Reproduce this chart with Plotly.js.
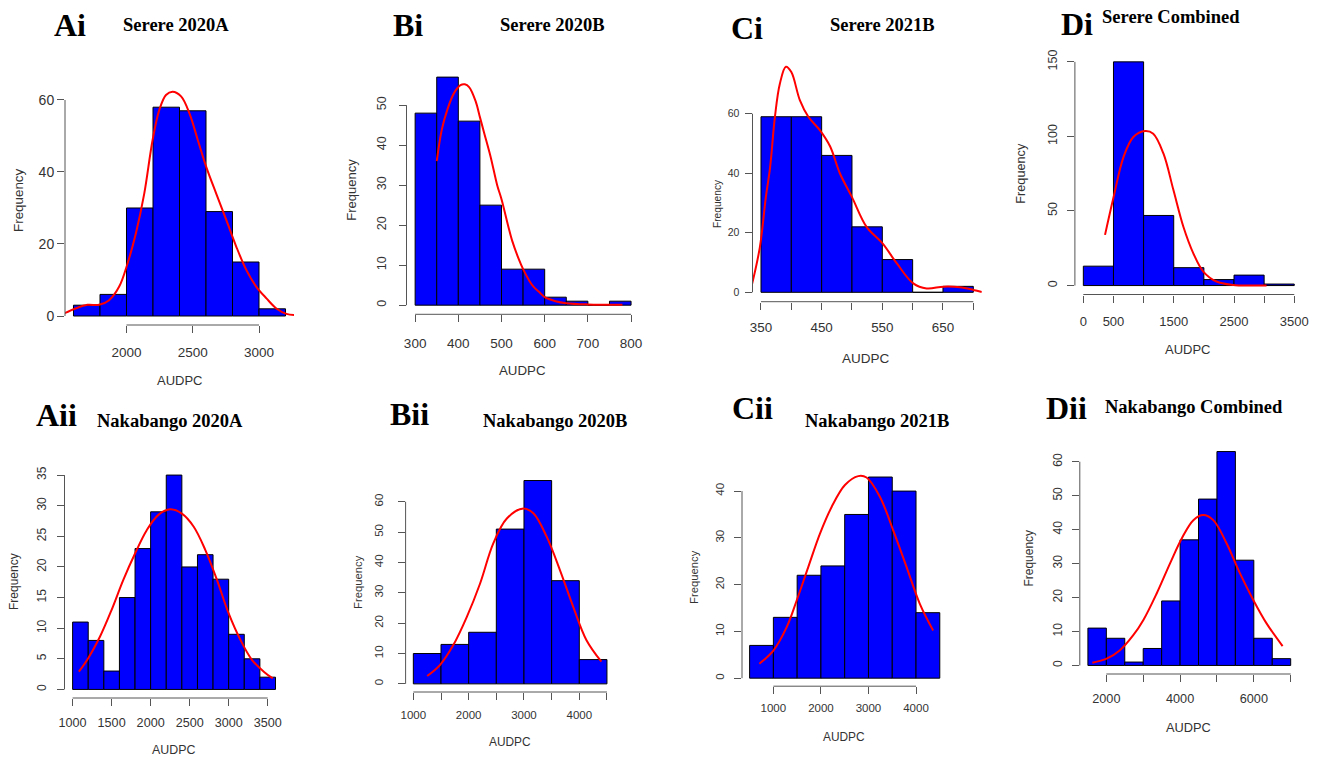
<!DOCTYPE html>
<html><head><meta charset="utf-8">
<script src="https://cdn.plot.ly/plotly-3.0.1.min.js"></script>
<style>html,body{margin:0;padding:0;background:#fff}#chart{width:1318px;height:758px}</style>
</head><body><div id="chart"></div>
<script>
// ---------------- DATA ----------------
// Ai Serere 2020A
const aiTitle = 'Serere 2020A';
const aiBinStart = 1600, aiBinWidth = 200;
const aiCounts = [3, 6, 30, 58, 57, 29, 15, 2];
const aiCurveX = [1528, 1616, 1705, 1793, 1869, 1944, 2008, 2071, 2134, 2197, 2247, 2298, 2348, 2412, 2475, 2538, 2601, 2677, 2753, 2828, 2904, 2980, 3056, 3131, 3207, 3270];
const aiCurveY = [0.7, 2.1, 3.1, 3.1, 4.4, 8.1, 14.6, 23, 34, 48.9, 57.2, 61.4, 62.3, 61, 56.3, 48.9, 41.5, 34, 26.7, 19.3, 12.8, 8.1, 4.9, 2.1, 0.6, 0.3];
const aiXTicks = [2000, 2500, 3000];
const aiXLabels = ['2000', '2500', '3000'];
const aiYTicks = [0, 20, 40, 60];

// Bi Serere 2020B
const biTitle = 'Serere 2020B';
const biBinStart = 300, biBinWidth = 50;
const biCounts = [48, 57, 46, 25, 9, 9, 2, 1, 0, 1];
const biCurveX = [350, 362, 375, 390, 405, 415, 425, 440, 450, 460, 475, 490, 500, 515, 525, 540, 550, 565, 575, 590, 600, 625, 650, 700, 780];
const biCurveY = [36, 44, 49, 53, 55, 55.2, 54.5, 51, 47, 43, 37, 30, 26.5, 20, 16, 11.5, 9, 6, 4.5, 3, 2, 1, 0.5, 0.2, 0.1];
const biXTicks = [300, 400, 500, 600, 700, 800];
const biXLabels = ['300', '400', '500', '600', '700', '800'];
const biYTicks = [0, 10, 20, 30, 40, 50];

// Ci Serere 2021B
const ciTitle = 'Serere 2021B';
const ciBinStart = 350, ciBinWidth = 50;
const ciCounts = [59, 59, 46, 22, 11, 0, 2];
const ciCurveX = [335, 348, 358, 365, 373, 381, 391, 400, 414, 428, 447, 464, 480, 500, 524, 550, 574, 601, 623, 651, 678, 700, 714];
const ciCurveY = [2.5, 15, 32, 42, 59, 70, 75.8, 74, 64.6, 59, 54.5, 49, 40, 32, 22, 16.5, 9.7, 3, 1.3, 1.9, 1.7, 0.8, 0.1];
const ciXTicks = [350, 400, 450, 500, 550, 600, 650, 700];
const ciXLabels = ['350', '', '450', '', '550', '', '650', ''];
const ciYTicks = [0, 20, 40, 60];

// Di Serere Combined
const diTitle = 'Serere Combined';
const diBinStart = 0, diBinWidth = 500;
const diCounts = [13, 150, 47, 12, 4, 7, 1];
const diCurveX = [360, 500, 665, 830, 1025, 1160, 1330, 1495, 1660, 1825, 1990, 2210, 2490, 2765, 3040];
const diCurveY = [34, 59, 86, 99.6, 103.6, 101.8, 88.4, 64, 39.4, 21.6, 9.4, 2.7, 0.4, 0, 0];
const diXTicks = [0, 500, 1000, 1500, 2000, 2500, 3000, 3500];
const diXLabels = ['0', '500', '', '1500', '', '2500', '', '3500'];
const diYTicks = [0, 50, 100, 150];

// Aii Nakabango 2020A
const aiiTitle = 'Nakabango 2020A';
const aiiBinStart = 1000, aiiBinWidth = 200;
const aiiCounts = [11, 8, 3, 15, 23, 29, 35, 20, 22, 18, 9, 5, 2];
const aiiCurveX = [1080, 1200, 1350, 1500, 1650, 1800, 1950, 2100, 2250, 2400, 2550, 2700, 2850, 3000, 3150, 3300, 3450, 3565];
const aiiCurveY = [2.9, 5.1, 8.6, 13, 17.9, 22.2, 26, 28.5, 29.4, 28.7, 26.6, 22.8, 17.9, 12.4, 8.1, 4.8, 2.9, 1.8];
const aiiXTicks = [1000, 1500, 2000, 2500, 3000, 3500];
const aiiXLabels = ['1000', '1500', '2000', '2500', '3000', '3500'];
const aiiYTicks = [0, 5, 10, 15, 20, 25, 30, 35];

// Bii Nakabango 2020B
const biiTitle = 'Nakabango 2020B';
const biiBinStart = 1000, biiBinWidth = 500;
const biiCounts = [10, 13, 17, 51, 67, 34, 8];
const biiCurveX = [1250, 1480, 1720, 1965, 2205, 2445, 2690, 2990, 3170, 3410, 3650, 3890, 4130, 4400];
const biiCurveY = [2.6, 6.2, 12.7, 22, 33, 46.3, 54.5, 57.8, 56.2, 48.5, 37.5, 25.4, 14.4, 7.3];
const biiXTicks = [1000, 1500, 2000, 2500, 3000, 3500, 4000, 4500];
const biiXLabels = ['1000', '', '2000', '', '3000', '', '4000', ''];
const biiYTicks = [0, 10, 20, 30, 40, 50, 60];

// Cii Nakabango 2021B
const ciiTitle = 'Nakabango 2021B';
const ciiBinStart = 500, ciiBinWidth = 500;
const ciiCounts = [7, 13, 22, 24, 35, 43, 40, 14];
const ciiCurveX = [705, 1000, 1280, 1490, 1735, 1980, 2225, 2505, 2785, 2960, 3240, 3520, 3800, 4080, 4360];
const ciiCurveY = [3.1, 5.9, 10.9, 16.6, 23.8, 30.9, 36.6, 41.3, 43.2, 42.9, 38.8, 31.6, 23.8, 15.9, 10.2];
const ciiXTicks = [1000, 2000, 3000, 4000];
const ciiXLabels = ['1000', '2000', '3000', '4000'];
const ciiYTicks = [0, 10, 20, 30, 40];

// Dii Nakabango Combined
const diiTitle = 'Nakabango Combined';
const diiBinStart = 1500, diiBinWidth = 500;
const diiCounts = [11, 8, 1, 5, 19, 37, 49, 63, 31, 8, 2];
const diiCurveX = [1620, 2010, 2370, 2730, 3005, 3365, 3725, 4045, 4360, 4630, 4900, 5260, 5625, 5985, 6345, 6780];
const diiCurveY = [0.8, 2, 4.5, 8.9, 13.4, 21.2, 30, 37.4, 42.8, 44.3, 42.8, 36, 27.1, 19.3, 12.4, 5.7];
const diiXTicks = [2000, 3000, 4000, 5000, 6000, 7000];
const diiXLabels = ['2000', '', '4000', '', '6000', ''];
const diiYTicks = [0, 10, 20, 30, 40, 50, 60];

// ---------------- LAYOUT CONFIG (positions in px) ----------------
const W = 1318, H = 758;
const panels = [
  {tag:'Ai',  title:aiTitle,  start:aiBinStart,  bw:aiBinWidth,  counts:aiCounts,  cx:aiCurveX,  cy:aiCurveY,  xt:aiXTicks,  xl:aiXLabels,  yt:aiYTicks,
   xd:[65,294], yd:[84,325], xr:[1536,3264], yr:[-2.5,64.44], rot:false, tf:13.5, ytf:14, xso:8, yso:0,
   tagPos:[70,25], titlePos:[175.5,25], freqPos:[19,200], freqF:13.4, audPos:[180,380], audF:13},
  {tag:'Bi',  title:biTitle,  start:biBinStart,  bw:biBinWidth,  counts:biCounts,  cx:biCurveX,  cy:biCurveY,  xt:biXTicks,  xl:biXLabels,  yt:biYTicks,
   xd:[406.5,639.7], yd:[68,314.3], xr:[280,820], yr:[-2.28,59.28], rot:true, tf:13.5, ytf:12.5, xso:9, yso:8,
   tagPos:[408,25], titlePos:[552,25], freqPos:[350.7,190], freqF:13, audPos:[522.7,370], audF:13.3},
  {tag:'Ci',  title:ciTitle,  start:ciBinStart,  bw:ciBinWidth,  counts:ciCounts,  cx:ciCurveX,  cy:ciCurveY,  xt:ciXTicks,  xl:ciXLabels,  yt:ciYTicks,
   xd:[752.5,981.8], yd:[48.3,301.7], xr:[336,714], yr:[-3.16,82], rot:false, tf:13.4, ytf:10.5, xso:6, yso:3,
   tagPos:[747,28], titlePos:[882,25], freqPos:[717,203], freqF:10.2, audPos:[866,358], audF:13.5},
  {tag:'Di',  title:diTitle,  start:diBinStart,  bw:diBinWidth,  counts:diCounts,  cx:diCurveX,  cy:diCurveY,  xt:diXTicks,  xl:diXLabels,  yt:diYTicks,
   xd:[1074.9,1302.7], yd:[52.9,294.5], xr:[-140,3640], yr:[-6,156], rot:true, tf:13, ytf:12.5, xso:8, yso:5,
   tagPos:[1077,24], titlePos:[1171,17], freqPos:[1020.7,173], freqF:12.7, audPos:[1187.7,350], audF:13},
  {tag:'Aii', title:aiiTitle, start:aiiBinStart, bw:aiiBinWidth, counts:aiiCounts, cx:aiiCurveX, cy:aiiCurveY, xt:aiiXTicks, xl:aiiXLabels, yt:aiiYTicks,
   xd:[64.5,283.6], yd:[466.5,698], xr:[896,3704], yr:[-1.4,36.4], rot:true, tf:12.6, ytf:12, xso:6, yso:6,
   tagPos:[56,415], titlePos:[170,421], freqPos:[13.3,581.7], freqF:12, audPos:[173.3,750], audF:12.4},
  {tag:'Bii', title:biiTitle, start:biiBinStart, bw:biiBinWidth, counts:biiCounts, cx:biiCurveX, cy:biiCurveY, xt:biiXTicks, xl:biiXLabels, yt:biiYTicks,
   xd:[405.6,614.7], yd:[472.4,692], xr:[860,4640], yr:[-2.68,69.68], rot:true, tf:11.5, ytf:11.5, xso:5, yso:10,
   tagPos:[409,414], titlePos:[555,421], freqPos:[357.3,581.7], freqF:11.3, audPos:[510,741.7], audF:11.9},
  {tag:'Cii', title:ciiTitle, start:ciiBinStart, bw:ciiBinWidth, counts:ciiCounts, cx:ciiCurveX, cy:ciiCurveY, xt:ciiXTicks, xl:ciiXLabels, yt:ciiYTicks,
   xd:[742,947.4], yd:[469,686.2], xr:[340,4660], yr:[-1.72,44.72], rot:true, tf:11.5, ytf:11.5, xso:4, yso:5,
   tagPos:[752.5,408], titlePos:[877,421], freqPos:[693.3,576.7], freqF:11.3, audPos:[844,736.7], audF:11.9},
  {tag:'Dii', title:diiTitle, start:diiBinStart, bw:diiBinWidth, counts:diiCounts, cx:diiCurveX, cy:diiCurveY, xt:diiXTicks, xl:diiXLabels, yt:diiYTicks,
   xd:[1079.8,1298.8], yd:[443,674], xr:[1280,7220], yr:[-2.52,65.52], rot:true, tf:12.7, ytf:12, xso:6, yso:5,
   tagPos:[1066,408], titlePos:[1194,407], freqPos:[1029.3,558.3], freqF:12, audPos:[1188.3,727.3], audF:12.8}
];

const SANS = '"Liberation Sans", Arial, sans-serif';
const SERIF = '"Liberation Serif", "Times New Roman", serif';
const TXT = '#333333';
const AX = '#555555';

const fx = p => p / W;
const fy = p => 1 - p / H;

const traces = [];
const layout = {
  width: W, height: H,
  margin: {l:0, r:0, t:0, b:0},
  paper_bgcolor: '#ffffff', plot_bgcolor: 'rgba(0,0,0,0)',
  showlegend: false,
  annotations: [], shapes: [],
  font: {family: SANS, color: TXT}
};

panels.forEach((p, i) => {
  const k = i + 1;
  const xa = 'x' + k, ya = 'y' + k;
  const centers = p.counts.map((_, j) => p.start + p.bw * (j + 0.5));
  traces.push({
    type: 'bar', x: centers, y: p.counts, width: p.bw,
    marker: {color: '#0000FF', line: {color: '#000000', width: 1}},
    xaxis: xa, yaxis: ya, hoverinfo: 'skip'
  });
  traces.push({
    type: 'scatter', mode: 'lines', x: p.cx, y: p.cy,
    line: {color: '#FF0000', width: 2, shape: 'spline', smoothing: 1},
    xaxis: xa, yaxis: ya, hoverinfo: 'skip'
  });
  layout['xaxis' + (k === 1 ? '' : k)] = {
    domain: [fx(p.xd[0]), fx(p.xd[1])], range: p.xr, anchor: ya,
    showgrid: false, zeroline: false, showline: false,
    ticks: 'outside', ticklen: 7, tickwidth: 1, tickcolor: AX,
    tickmode: 'array', tickvals: p.xt, ticktext: p.xl,
    tickfont: {family: SANS, size: p.tf, color: TXT},
    ticklabelstandoff: p.xso, fixedrange: true
  };
  layout['yaxis' + (k === 1 ? '' : k)] = {
    domain: [fy(p.yd[1]), fy(p.yd[0])], range: p.yr, anchor: xa,
    showgrid: false, zeroline: false, showline: false,
    ticks: 'outside', ticklen: 7, tickwidth: 1, tickcolor: AX,
    tickmode: 'array', tickvals: p.yt, ticktext: p.yt.map(String),
    tickangle: p.rot ? -90 : 0,
    tickfont: {family: SANS, size: p.ytf, color: TXT},
    ticklabelstandoff: p.yso, fixedrange: true
  };
  // R-style axis lines spanning the tick range
  layout.shapes.push({type:'line', xref: xa, yref: ya + ' domain',
    x0: p.xt[0], x1: p.xt[p.xt.length - 1], y0: 0, y1: 0, line: {color: AX, width: 1}});
  layout.shapes.push({type:'line', xref: xa + ' domain', yref: ya,
    x0: 0, x1: 0, y0: p.yt[0], y1: p.yt[p.yt.length - 1], line: {color: AX, width: 1}});
  // panel tag and title
  layout.annotations.push({text: '<b>' + p.tag + '</b>', xref:'paper', yref:'paper',
    x: fx(p.tagPos[0]), y: fy(p.tagPos[1]), xanchor:'center', yanchor:'middle', showarrow:false,
    font: {family: SERIF, size: 32, color: '#000'}});
  layout.annotations.push({text: '<b>' + p.title + '</b>', xref:'paper', yref:'paper',
    x: fx(p.titlePos[0]), y: fy(p.titlePos[1]), xanchor:'center', yanchor:'middle', showarrow:false,
    font: {family: SERIF, size: 18.5, color: '#000'}});
  layout.annotations.push({text: 'Frequency', xref:'paper', yref:'paper', textangle: -90,
    x: fx(p.freqPos[0]), y: fy(p.freqPos[1]), xanchor:'center', yanchor:'middle', showarrow:false,
    font: {family: SANS, size: p.freqF, color: TXT}});
  layout.annotations.push({text: 'AUDPC', xref:'paper', yref:'paper',
    x: fx(p.audPos[0]), y: fy(p.audPos[1]), xanchor:'center', yanchor:'middle', showarrow:false,
    font: {family: SANS, size: p.audF, color: TXT}});
});

Plotly.newPlot('chart', traces, layout, {displayModeBar: false, staticPlot: true});
</script>
</body></html>
